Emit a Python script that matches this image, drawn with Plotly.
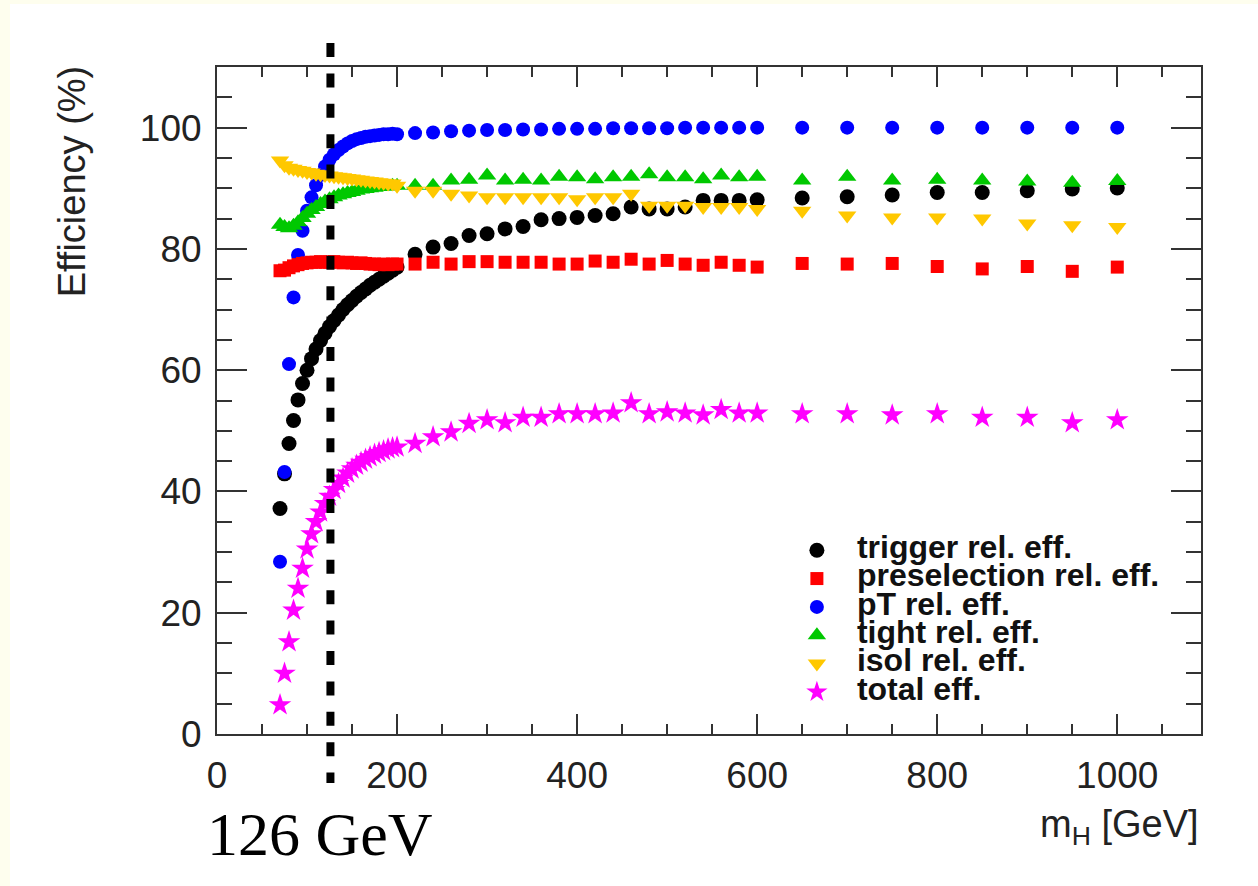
import plotly.graph_objects as go

# ---------------- data ----------------
mass = [70, 75, 80, 85, 90, 95, 100, 105, 110, 115, 120, 125, 130, 135, 140,
        145, 150, 155, 160, 165, 170, 175, 180, 185, 190, 195, 200,
        220, 240, 260, 280, 300, 320, 340, 360, 380, 400, 420, 440, 460, 480,
        500, 520, 540, 560, 580, 600,
        650, 700, 750, 800, 850, 900, 950, 1000]

trigger_eff = [37.2, 42.9, 47.9, 51.7, 55.1, 57.8, 60.0, 61.9, 63.5, 64.9, 66.1,
               67.2, 68.2, 69.1, 70.0, 70.8, 71.5, 72.2, 72.8, 73.4, 74.0, 74.5,
               75.0, 75.5, 76.0, 76.5, 77.0,
               79.1, 80.3, 80.9, 82.2, 82.5, 83.3, 83.7, 84.8, 85.0, 85.2, 85.5,
               85.8, 86.9, 86.6, 86.6, 86.9, 88.0, 88.0, 88.0, 88.1,
               88.4, 88.6, 88.9, 89.3, 89.3, 89.6, 89.9, 90.05]

presel_eff = [76.4, 76.5, 76.9, 77.2, 77.4, 77.6, 77.7, 77.8, 77.8, 77.9, 77.8,
              77.8, 77.9, 77.8, 77.7, 77.8, 77.7, 77.6, 77.7, 77.6, 77.5, 77.5,
              77.4, 77.5, 77.4, 77.5, 77.5,
              77.5, 77.8, 77.5, 77.9, 77.9, 77.8, 77.8, 77.8, 77.5, 77.5, 78.0,
              77.8, 78.3, 77.5, 78.1, 77.5, 77.3, 77.8, 77.3, 77.0,
              77.6, 77.5, 77.6, 77.1, 76.7, 77.1, 76.3, 77.0]

pt_eff = [28.4, 43.2, 61.0, 72.0, 79.0, 83.0, 86.3, 88.5, 90.5, 92.2, 93.6,
          94.7, 95.6, 96.3, 96.9, 97.4, 97.8, 98.1, 98.3, 98.5, 98.6, 98.7,
          98.8, 98.9, 98.9, 99.0, 98.9,
          99.1, 99.2, 99.4, 99.5, 99.6, 99.6, 99.7, 99.7, 99.8, 99.8, 99.8,
          99.9, 99.9, 99.9, 99.9, 100.0, 100.0, 100.0, 100.0, 100.0,
          100.0, 100.0, 100.0, 100.0, 100.0, 100.0, 100.0, 100.0]

tight_eff = [84.0, 83.6, 83.4, 83.8, 84.4, 85.1, 85.8, 86.4, 86.9, 87.4, 87.8,
             88.2, 88.5, 88.8, 89.0, 89.2, 89.4, 89.6, 89.8, 89.9, 90.0, 90.1,
             90.2, 90.3, 90.3, 90.4, 90.4,
             90.4, 90.4, 91.3, 91.4, 92.1, 91.3, 91.4, 91.3, 91.9, 91.8, 91.5,
             91.8, 91.9, 92.3, 91.8, 91.8, 91.5, 92.1, 91.8, 91.9,
             91.3, 91.9, 91.3, 91.4, 91.3, 91.1, 90.9, 91.2]

isol_eff = [94.6, 93.8, 93.4, 93.2, 93.0, 92.9, 92.7, 92.6, 92.4, 92.3, 92.2,
            92.1, 92.0, 91.9, 91.8, 91.7, 91.6, 91.5, 91.4, 91.3, 91.2, 91.1,
            91.0, 90.9, 90.8, 90.8, 90.4,
            89.6, 89.6, 89.1, 88.8, 88.5, 88.5, 88.5, 88.5, 88.5, 88.2, 88.5,
            88.5, 89.1, 87.1, 87.1, 87.1, 86.9, 86.9, 86.9, 86.6,
            86.3, 85.5, 85.2, 85.2, 85.0, 84.2, 83.9, 83.6]

total_eff = [4.8, 10.0, 15.2, 20.4, 24.0, 27.3, 30.5, 33.0, 35.0, 36.6, 38.0,
             39.2, 40.3, 41.3, 42.2, 43.0, 43.7, 44.3, 44.8, 45.3, 45.7, 46.1,
             46.4, 46.7, 47.0, 47.2, 47.3,
             47.9, 49.0, 49.8, 51.2, 51.8, 51.3, 52.2, 52.2, 52.8, 52.8, 52.8,
             52.9, 54.6, 52.8, 53.1, 52.9, 52.6, 53.5, 52.9, 52.9,
             52.8, 52.8, 52.6, 52.8, 52.2, 52.2, 51.3, 51.8]

higgs_mass = 126

# ---------------- figure ----------------
LEG = 'font-size:32px'
series = [
    # (name, y, color, symbol, size, legendrank)  -- drawing order
    ("trigger rel. eff.", trigger_eff, "#000000", "circle", 15, 1),
    ("pT rel. eff.", pt_eff, "#0000FF", "circle", 14, 3),
    ("preselection rel. eff.", presel_eff, "#FF0000", "square", 13, 2),
    ("tight rel. eff.", tight_eff, "#00C800", "triangle-up", 16, 4),
    ("isol rel. eff.", isol_eff, "#FFC800", "triangle-down", 16, 5),
    ("total eff.", total_eff, "#FF00FF", "star", 17, 6),
]

fig = go.Figure()
for name, y, color, symbol, size, rank in series:
    fig.add_trace(go.Scatter(
        x=mass, y=y, mode="markers",
        name=f'<span style="{LEG}">{name}</span>',
        legendrank=rank,
        marker=dict(color=color, symbol=symbol, size=size, line=dict(width=0)),
    ))

axis_common = dict(
    showline=True, linecolor="#333333", linewidth=2, mirror="ticks",
    ticks="inside", tickcolor="#333333", tickwidth=2,
    showgrid=False, zeroline=False,
    tickfont=dict(family="Liberation Sans, Arial", size=37, color="#222222"),
)

fig.update_xaxes(range=[0, 1093], tick0=0, dtick=200, ticklen=20,
                 ticklabelstandoff=8,
                 minor=dict(dtick=50, ticklen=10, ticks="inside",
                            tickcolor="#333333", tickwidth=2),
                 **axis_common)
fig.update_yaxes(range=[0, 110], tick0=0, dtick=20, ticklen=30,
                 ticklabelstandoff=6,
                 minor=dict(dtick=5, ticklen=15, ticks="inside",
                            tickcolor="#333333", tickwidth=2),
                 **axis_common)

# page background: cream strip on top/left, white elsewhere
fig.add_shape(type="rect", xref="paper", yref="paper",
              x0=-0.2104, x1=1.2, y0=-0.4, y1=1.0945,
              fillcolor="white", line=dict(width=0), layer="below")

# dashed 126 GeV marker line
fig.add_shape(type="line", xref="x", yref="paper",
              x0=higgs_mass, x1=higgs_mass, y0=1.036, y1=-0.0735,
              line=dict(color="black", width=8, dash="14px,16.4px"),
              layer="above")

fig.add_annotation(text="Efficiency (%)", xref="paper", yref="paper",
                   x=-0.147, y=1.006, xanchor="center", yanchor="top",
                   textangle=-90, showarrow=False,
                   font=dict(family="Liberation Sans, Arial", size=38, color="#222222"))
fig.add_annotation(text="m<sub>H</sub> [GeV]", xref="paper", yref="paper",
                   x=1.0, y=-0.139, xanchor="right", yanchor="middle",
                   showarrow=False,
                   font=dict(family="Liberation Sans, Arial", size=38, color="#222222"))
fig.add_annotation(text="126 GeV", xref="paper", yref="paper",
                   x=0.1047, y=-0.15, xanchor="center", yanchor="middle",
                   showarrow=False,
                   font=dict(family="Liberation Serif, Times New Roman", size=62, color="black"))

fig.update_layout(
    width=1258, height=886,
    margin=dict(l=217, r=57, t=67, b=152, pad=0),
    paper_bgcolor="#FEFEEE", plot_bgcolor="white",
    legend=dict(x=0.569, y=0.3043, xanchor="left", yanchor="top",
                bgcolor="rgba(0,0,0,0)", itemwidth=70,
                font=dict(family="Liberation Sans, Arial", size=19.5,
                          color="#111111", weight="bold"),
                traceorder="normal"),
    showlegend=True,
)

fig.write_html("out.html")
